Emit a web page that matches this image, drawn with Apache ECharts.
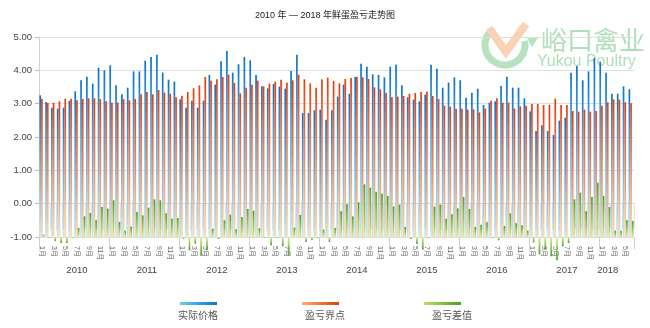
<!DOCTYPE html>
<html><head><meta charset="utf-8">
<script src="https://cdn.jsdelivr.net/npm/echarts@6/dist/echarts.min.js"></script>
<style>html,body{margin:0;padding:0;background:#fff}#c{width:650px;height:328px}</style>
</head><body><div id="c"></div>
<script>
const chartTitle = '2010 年 — 2018 年鲜蛋盈亏走势图';
const years = ['2010','2011','2012','2013','2014','2015','2016','2017','2018'];
const monthsInYear = [12,12,12,12,12,12,12,12,6];
const monthLabels = ['1月','2月','3月','4月','5月','6月','7月','8月','9月','10月','11月','12月'];
const yTicks = [-1,0,1,2,3,4,5];
const seriesNames = ['实际价格','盈亏界点','盈亏差值'];

const actualPrice = [
  3.25,3.05,2.88,2.85,2.88,3.09,3.37,3.70,3.81,3.60,4.08,4.00,
  4.15,3.55,3.28,3.48,3.97,3.97,4.29,4.40,4.47,3.93,3.72,3.66,
  3.13,2.88,3.09,2.88,3.09,3.86,3.57,4.27,4.58,3.93,4.18,4.40,
  4.30,3.86,3.52,3.46,3.59,3.51,3.45,3.98,4.47,2.72,2.72,2.80,
  2.82,2.52,2.80,3.21,3.57,3.30,3.80,4.20,4.11,3.88,3.86,3.79,
  4.11,4.17,3.55,3.19,3.12,3.07,3.27,4.17,4.05,3.48,3.63,3.79,
  3.70,3.18,3.33,3.45,2.96,3.03,3.07,3.53,3.81,3.48,3.48,3.16,
  2.77,2.18,2.35,2.18,2.06,2.49,2.58,3.93,4.13,3.70,3.97,4.37,
  4.26,3.93,3.30,3.30,3.52,3.43
];
const breakEven = [
  3.15,3.02,3.03,3.07,3.15,3.15,3.10,3.14,3.16,3.16,3.14,3.07,
  3.03,3.03,3.14,3.10,3.14,3.28,3.35,3.28,3.41,3.33,3.30,3.19,
  3.24,3.35,3.46,3.55,3.80,3.69,3.73,3.80,3.87,3.62,3.31,3.48,
  3.57,3.69,3.52,3.60,3.66,3.72,3.63,3.70,3.87,3.73,3.61,3.48,
  3.73,3.78,3.68,3.61,3.74,3.77,3.81,3.79,3.74,3.49,3.43,3.32,
  3.19,3.21,3.23,3.30,3.32,3.35,3.36,3.23,3.14,2.94,2.91,2.85,
  2.85,2.82,2.83,2.74,2.85,3.09,3.16,3.03,3.03,2.86,2.92,2.94,
  2.99,2.99,2.96,2.96,3.15,2.96,2.96,2.78,2.76,2.82,2.76,2.78,
  2.94,3.04,3.13,3.12,3.04,3.01
];
const profitDiff = [
  0.07,-0.02,-0.12,-0.18,-0.18,-0.02,0.27,0.62,0.72,0.50,0.90,0.85,
  1.10,0.45,0.19,0.31,0.75,0.65,0.88,1.13,1.10,0.71,0.55,0.57,
  -0.05,-0.40,-0.20,-0.56,-0.40,0.25,-0.06,0.50,0.67,0.23,0.60,0.84,
  0.79,0.26,-0.02,-0.25,-0.03,-0.28,-0.55,0.28,0.66,-0.15,-0.08,-0.02,
  0.22,-0.15,0.27,0.77,0.98,0.62,1.04,1.58,1.48,1.36,1.30,1.23,
  0.92,0.97,0.30,-0.06,-0.21,-0.38,-0.02,0.91,0.97,0.55,0.68,0.86,
  1.20,0.84,0.30,0.37,0.44,-0.03,-0.10,0.33,0.71,0.41,0.35,0.19,
  -0.16,-0.52,-0.38,-0.58,-0.70,-0.28,-0.18,1.13,1.33,0.77,1.20,1.63,
  1.23,0.90,0.19,0.19,0.50,0.48
];

// build categories "year|month"
const categories = [];
const yearLabelIdx = {};
const yearStartIdx = {};
let idx = 0;
years.forEach((y, yi) => {
  const n = monthsInYear[yi];
  yearStartIdx[idx] = true;
  yearLabelIdx[idx + (n === 12 ? 6 : 1)] = true;
  for (let m = 0; m < n; m++) { categories.push(y + '|' + monthLabels[m]); idx++; }
});

const G = echarts.graphic.LinearGradient;
const vgrad = (a, b) => new G(0, 0, 0, 1, [{offset: 0, color: a}, {offset: 1, color: b}]);
const hgrad = (a, b) => new G(0, 0, 1, 0, [{offset: 0, color: a}, {offset: 1, color: b}]);

const blueFill = vgrad('#0a74cc', '#c4e9fb');
const orangeFill = vgrad('#e83c0c', '#fcdcaa');
const greenFill = vgrad('#48a222', '#dbe996');
const greenNegFill = vgrad('#dbe996', '#48a222');

const FONT = '"Liberation Sans", "Noto Sans CJK SC", sans-serif';

const chart = echarts.init(document.getElementById('c'), null, {renderer: 'canvas'});
chart.setOption({
  animation: false,
  backgroundColor: '#fff',
  textStyle: {fontFamily: FONT},
  title: {
    text: chartTitle, left: 'center', top: 6,
    textStyle: {fontSize: 9, fontWeight: 'normal', color: '#222', fontFamily: FONT}
  },
  graphic: [
    {type: 'arc', z: 0, shape: {cx: 505, cy: 45, r: 20, startAngle: -0.2, endAngle: Math.PI * 1.2, clockwise: true},
     style: {stroke: '#b6e2be', lineWidth: 7, fill: null}},
    {type: 'polygon', z: 0, shape: {points: [[527, 38], [538, 38], [532, 47]]}, style: {fill: '#b6e2be'}},
    {type: 'polyline', z: 0, shape: {points: [[489, 28], [506, 52], [526, 24]]},
     style: {stroke: '#fbd3b4', lineWidth: 8, fill: null}},
    {type: 'text', z: 0, left: 541, top: 27,
     style: {text: '峪口禽业', font: '26px "Noto Sans CJK SC"', fill: '#b0e0b9'}},
    {type: 'text', z: 0, left: 537, top: 54,
     style: {text: 'Yukou Poultry', font: '16px "Liberation Sans"', fill: '#b0e0b9'}}
  ],
  legend: [
    {
      selectedMode: false, left: 180, top: 302, padding: 0, itemWidth: 37, itemHeight: 3, itemGap: 85,
      formatter: () => '',
      data: [
        {name: seriesNames[0], icon: 'rect', itemStyle: {color: hgrad('#6ccbf3', '#0a74cc')}},
        {name: seriesNames[1], icon: 'rect', itemStyle: {color: hgrad('#f7b06a', '#e63a0c')}},
        {name: seriesNames[2], icon: 'rect', itemStyle: {color: hgrad('#c2dc66', '#48a222')}}
      ]
    },
    {
      selectedMode: false, left: 173, top: 311, padding: 0, itemWidth: 0, itemHeight: 0, itemGap: 82,
      icon: 'none',
      textStyle: {fontSize: 10, color: '#555', fontFamily: FONT},
      data: seriesNames.map(n => ({name: n, icon: 'none'}))
    }
  ],
  grid: {left: 39, right: 16, top: 37, bottom: 91, containLabel: false},
  xAxis: [
    {
      type: 'category', data: categories, position: 'bottom',
      axisLine: {show: true, lineStyle: {color: '#d6d6d6'}},
      axisTick: {show: true, interval: 0, length: 26, lineStyle: {color: '#e2e2e2'}},
      axisLabel: {
        interval: 1, rotate: -90, fontSize: 7, color: '#666', margin: 9,
        formatter: v => v.split('|')[1]
      },
      splitLine: {show: false}
    },
    {
      type: 'category', data: categories, position: 'bottom', offset: 26,
      axisLine: {show: false},
      axisTick: {show: true, length: 12, interval: (i) => !!yearStartIdx[i], lineStyle: {color: '#cfcfcf'}},
      axisLabel: {
        interval: (i) => !!yearLabelIdx[i], fontSize: 9.5, color: '#444', margin: 3,
        formatter: v => v.split('|')[0]
      },
      splitLine: {show: false}
    }
  ],
  yAxis: [
    {
      type: 'value', min: yTicks[0], max: yTicks[yTicks.length - 1], interval: 1, startValue: -1,
      axisLine: {show: true, lineStyle: {color: '#d0d0d0'}},
      axisTick: {show: true, length: 4, lineStyle: {color: '#bbb'}},
      axisLabel: {fontSize: 9.5, color: '#444', margin: 7, formatter: v => v.toFixed(2)},
      splitLine: {show: true, lineStyle: {color: '#dedede', width: 1}}
    },
    {
      type: 'value', min: 0, max: 6, show: false, splitLine: {show: false}
    }
  ],
  series: [
    {name: seriesNames[0], type: 'bar', xAxisIndex: 0, yAxisIndex: 0, data: actualPrice,
     barWidth: 1.7, barGap: '0%', itemStyle: {color: blueFill}, z: 3},
    {name: seriesNames[1], type: 'bar', xAxisIndex: 0, yAxisIndex: 0, data: breakEven,
     barWidth: 1.7, barGap: '0%', itemStyle: {color: orangeFill}, z: 3},
    {name: seriesNames[2], type: 'bar', xAxisIndex: 0, yAxisIndex: 1, clip: false,
     data: profitDiff.map(v => v < 0 ? {value: v, itemStyle: {color: greenNegFill}} : v),
     barWidth: 1.7, barGap: '0%', itemStyle: {color: greenFill}, z: 3}
  ]
});
</script>
</body></html>
